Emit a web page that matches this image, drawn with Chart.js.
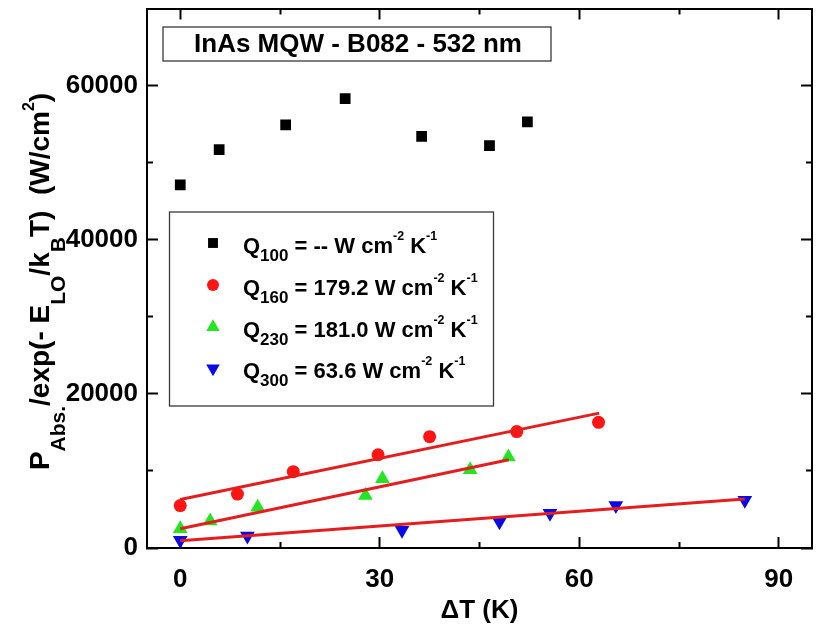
<!DOCTYPE html>
<html><head><meta charset="utf-8">
<script src="https://cdn.jsdelivr.net/npm/chart.js@4.4.1/dist/chart.umd.min.js"></script>
<style>html,body{margin:0;padding:0;background:#fff;}#wrap{width:821px;height:635px;position:relative;}</style>
</head><body><div id="wrap"><canvas id="c" width="821" height="635"></canvas></div>
<script>
const FONT = "'Liberation Sans', Arial, Helvetica, sans-serif";

// ---- axes / ticks ----
const xRange = [-5, 95];
const yRange = [0, 70000];
const xMajorTicks = [0, 30, 60, 90];
const xMinorTicks = [15, 45, 75];
const yMajorTicks = [0, 20000, 40000, 60000];
const yMinorTicks = [10000, 30000, 50000];
const xTitle = 'ΔT (K)';
const chartTitle = 'InAs MQW - B082 - 532 nm';

// ---- data (ΔT in K, P in W/cm²) ----
const dT100 = [0, 5.85, 15.85, 24.8, 36.3, 46.5, 52.2];
const P100  = [47100, 51700, 54900, 58300, 53400, 52200, 55300];
const dT160 = [0, 8.6, 17.0, 29.75, 37.5, 50.6, 62.9];
const P160  = [5500, 7000, 9900, 12100, 14450, 15100, 16300];
const dT230 = [0, 4.5, 11.65, 27.85, 30.4, 43.6, 49.35];
const P230  = [2500, 3500, 5300, 6800, 9000, 10150, 11800];
const dT300 = [0, 10.1, 33.35, 48, 55.6, 65.5, 84.9];
const P300  = [1000, 1550, 2300, 3400, 4500, 5500, 6200];

// linear fit lines (end points)
const fit160X = [0, 63],   fit160Y = [6300, 17500];
const fit230X = [0, 49.4], fit230Y = [2500, 11450];
const fit300X = [0, 84.9], fit300Y = [950, 6350];

// legend texts (rich: '' normal, 'sub', 'sup')
const legendTexts = [
  [['Q',''],['100','sub'],[' = -- W cm',''],['-2','sup'],[' K',''],['-1','sup']],
  [['Q',''],['160','sub'],[' = 179.2 W cm',''],['-2','sup'],[' K',''],['-1','sup']],
  [['Q',''],['230','sub'],[' = 181.0 W cm',''],['-2','sup'],[' K',''],['-1','sup']],
  [['Q',''],['300','sub'],[' = 63.6 W cm',''],['-2','sup'],[' K',''],['-1','sup']]
];
const yTitleSegs = [['P',''],['Abs.','sub'],['/exp(- E',''],['LO','sub'],['/k',''],['B','sub'],['T)  (W/cm',''],['2','sup'],[')','']];

const pts = (xs, ys) => xs.map((x, i) => ({x: x, y: ys[i]}));

const C_BLACK = '#000000', C_RED = '#ff1414', C_GREEN = '#22e622', C_BLUE = '#0a0ae6', C_FIT = '#e41e1e';
const markerStyles = [
  {pointStyle: 'rect', radius: 7.6, rotation: 0, color: C_BLACK},
  {pointStyle: 'circle', radius: 6.5, rotation: 0, color: C_RED},
  {pointStyle: 'triangle', radius: 8.5, rotation: 0, color: C_GREEN},
  {pointStyle: 'triangle', radius: 8.5, rotation: 180, color: C_BLUE}
];

function mkAxis(axis, position, ticksArr, tickLen, showLabels, weight, size) {
  const isX = axis === 'x';
  const cfg = {
    type: 'linear', axis: axis, position: position, weight: weight,
    min: isX ? xRange[0] : yRange[0], max: isX ? xRange[1] : yRange[1],
    afterBuildTicks: s => { s.ticks = ticksArr.map(v => ({value: v})); },
    afterFit: s => {
      if (isX) s.height = size; else s.width = size;
      s.paddingLeft = 0; s.paddingRight = 0; s.paddingTop = 0; s.paddingBottom = 0;
    },
    grid: {drawOnChartArea: false, drawTicks: true, tickLength: -tickLen, tickWidth: 2, tickColor: '#000'},
    border: {display: true, color: '#000', width: 2},
    ticks: {display: showLabels, color: '#000', autoSkip: false, maxRotation: 0,
      font: {family: FONT, size: 26, weight: 'bold'},
      padding: isX ? 27 : 20,
      callback: v => String(v)}
  };
  return cfg;
}

const scales = {
  x: mkAxis('x', 'bottom', xMajorTicks, 11, true, 1, 87),
  xMinor: mkAxis('x', 'bottom', xMinorTicks, 6, false, 0, 0),
  xTop: mkAxis('x', 'top', xMajorTicks, 11, false, 1, 0),
  xTopMinor: mkAxis('x', 'top', xMinorTicks, 6, false, 0, 0),
  y: mkAxis('y', 'left', yMajorTicks, 11, true, 1, 147),
  yMinor: mkAxis('y', 'left', yMinorTicks, 6, false, 0, 0),
  yRight: mkAxis('y', 'right', yMajorTicks, 11, false, 1, 0),
  yRightMinor: mkAxis('y', 'right', yMinorTicks, 6, false, 0, 0)
};
scales.x.title = {display: true, text: xTitle, color: '#000',
  font: {family: FONT, size: 26, weight: 'bold', lineHeight: 1.2}, padding: {top: 0, bottom: 9}};

function drawRich(ctx, segs, x, y, st, measureOnly) {
  let cx = x;
  for (const [t, k] of segs) {
    const size = k === 'sub' ? st.sub : k === 'sup' ? st.sup : st.main;
    const dy = k === 'sub' ? st.subDy : k === 'sup' ? -st.supDy : 0;
    ctx.font = 'bold ' + size + 'px ' + FONT;
    if (!measureOnly) ctx.fillText(t, cx, y + dy);
    cx += ctx.measureText(t).width;
  }
  return cx - x;
}

const decor = {
  id: 'decor',
  afterDraw(chart) {
    const ctx = chart.ctx;
    ctx.save();
    ctx.fillStyle = '#000';
    ctx.textBaseline = 'alphabetic';
    ctx.textAlign = 'left';

    // title box
    ctx.strokeStyle = '#3a3a3a'; ctx.lineWidth = 1.3;
    ctx.fillStyle = '#fff';
    ctx.fillRect(163, 27, 388, 34);
    ctx.strokeRect(163, 27, 388, 34);
    ctx.fillStyle = '#000';
    ctx.font = 'bold 26px ' + FONT;
    ctx.textAlign = 'center'; ctx.textBaseline = 'middle';
    ctx.fillText(chartTitle, 358, 45);
    ctx.textAlign = 'left'; ctx.textBaseline = 'alphabetic';

    // legend box
    ctx.fillStyle = '#fff';
    ctx.fillRect(169.5, 212, 324, 194);
    ctx.strokeStyle = '#3a3a3a'; ctx.lineWidth = 1.3;
    ctx.strokeRect(169.5, 212, 324, 194);
    const rowY = [243, 285, 327, 368.5];
    const lst = {main: 22, sub: 17, sup: 12.5, subDy: 8, supDy: 13};
    for (let i = 0; i < 4; i++) {
      const m = markerStyles[i];
      ctx.fillStyle = m.color; ctx.strokeStyle = m.color;
      Chart.helpers.drawPoint(ctx, {pointStyle: m.pointStyle, radius: m.radius * 0.92, rotation: m.rotation, borderWidth: 0}, 213, rowY[i]);
      ctx.fillStyle = '#000';
      drawRich(ctx, legendTexts[i], 243, rowY[i] + 9.5, lst);
    }

    // y axis title (rotated)
    const yst = {main: 28, sub: 21, sup: 16, subDy: 16, supDy: 15};
    const w = drawRich(ctx, yTitleSegs, 0, 0, yst, true);
    ctx.translate(49, 281.5);
    ctx.rotate(-Math.PI / 2);
    ctx.fillStyle = '#000';
    drawRich(ctx, yTitleSegs, -w / 2, 0, yst);
    ctx.restore();
  }
};

new Chart(document.getElementById('c'), {
  type: 'scatter',
  data: {datasets: [
    {label: 'fit160', data: pts(fit160X, fit160Y), showLine: true, borderColor: C_FIT, borderWidth: 3, pointRadius: 0, fill: false},
    {label: 'fit230', data: pts(fit230X, fit230Y), showLine: true, borderColor: C_FIT, borderWidth: 3, pointRadius: 0, fill: false},
    {label: 'fit300', data: pts(fit300X, fit300Y), showLine: true, borderColor: C_FIT, borderWidth: 3, pointRadius: 0, fill: false},
    {label: 'Q100', data: pts(dT100, P100), pointStyle: 'rect', pointRadius: markerStyles[0].radius, pointBackgroundColor: C_BLACK, pointBorderWidth: 0},
    {label: 'Q160', data: pts(dT160, P160), pointStyle: 'circle', pointRadius: markerStyles[1].radius, pointBackgroundColor: C_RED, pointBorderWidth: 0},
    {label: 'Q230', data: pts(dT230, P230), pointStyle: 'triangle', pointRadius: markerStyles[2].radius, pointBackgroundColor: C_GREEN, pointBorderWidth: 0},
    {label: 'Q300', data: pts(dT300, P300), pointStyle: 'triangle', pointRotation: 180, pointRadius: markerStyles[3].radius, pointBackgroundColor: C_BLUE, pointBorderWidth: 0}
  ]},
  options: {
    responsive: false, animation: false, devicePixelRatio: 1,
    layout: {padding: {left: 0, right: 9, top: 5, bottom: 0}},
    plugins: {legend: {display: false}, tooltip: {enabled: false}, title: {display: false}},
    scales: scales
  },
  plugins: [decor]
});
</script>
</body></html>
